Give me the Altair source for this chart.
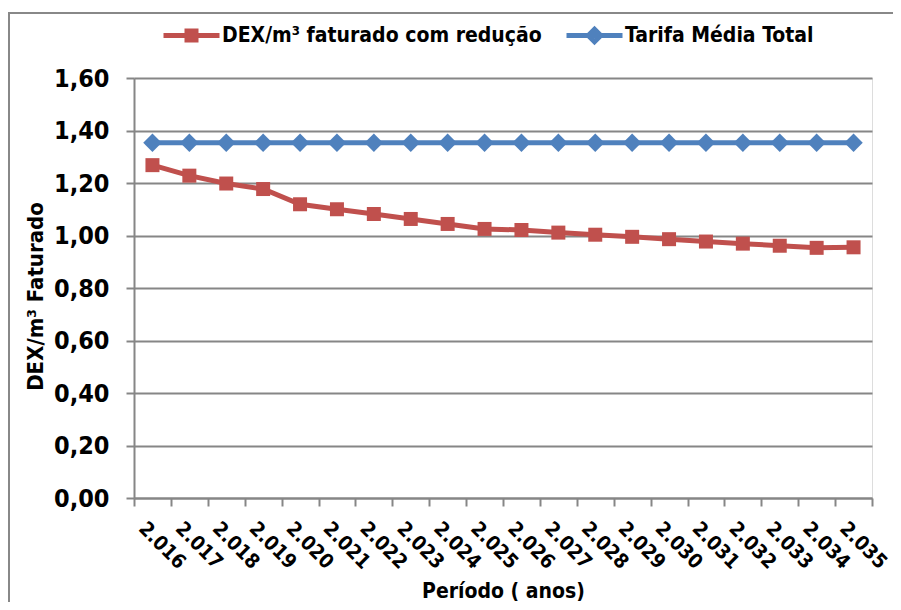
import altair as alt
import pandas as pd

years = ["2.016", "2.017", "2.018", "2.019", "2.020", "2.021", "2.022", "2.023", "2.024", "2.025",
         "2.026", "2.027", "2.028", "2.029", "2.030", "2.031", "2.032", "2.033", "2.034", "2.035"]
dex = [1.268, 1.228, 1.198, 1.177, 1.119, 1.100, 1.082, 1.063, 1.044, 1.025,
       1.021, 1.011, 1.003, 0.995, 0.986, 0.977, 0.969, 0.961, 0.953, 0.955]
tarifa = [1.353] * 20
series = ["DEX/m³ faturado com redução", "Tarifa Média Total"]
colors = ["#C0504D", "#4F81BD"]
y_ticks = [0.0, 0.2, 0.4, 0.6, 0.8, 1.0, 1.2, 1.4, 1.6]

df_red = pd.DataFrame({"ano": years, "valor": dex, "serie": series[0]})
df_blue = pd.DataFrame({"ano": years, "valor": tarifa, "serie": series[1]})

FONT = "'Liberation Sans Narrow', 'DejaVu Sans Condensed', 'Roboto Condensed', 'Arial Narrow', Roboto, 'Liberation Sans', sans-serif"

# legend symbols (stroked): a line segment with the series marker on it
red_path = "M-2.8,0H2.8M-0.45,-0.45H0.45V0.45H-0.45Z"
blue_path = "M-2.8,0H2.8M0,-0.62L0.62,0L0,0.62L-0.62,0Z"

x_enc = alt.X("ano:N", sort=years,
              scale=alt.Scale(paddingInner=0, paddingOuter=0),
              axis=alt.Axis(title="Período ( anos)", labelAngle=45, labelAlign="left",
                            labelBaseline="top", labelPadding=12, labelOffset=-4,
                            tickBand="extent", tickSize=8, tickColor="#868686", tickWidth=2,
                            domainColor="#868686", domainWidth=2,
                            labelFont=FONT, labelFontSize=20, labelFontWeight="bold",
                            labelColor="black",
                            titleFont=FONT, titleFontSize=21, titleFontWeight="bold",
                            titleColor="black", titleX=369, titleY=99,
                            titleBaseline="alphabetic", titleAnchor="middle"))
y_enc = alt.Y("valor:Q", scale=alt.Scale(domain=[0, 1.6], nice=False),
              axis=alt.Axis(title="DEX/m³ Faturado", values=y_ticks,
                            labelExpr="replace(format(datum.value, '.2f'), '.', ',')",
                            grid=True, gridColor="#868686", gridWidth=2,
                            tickSize=8, tickColor="#868686", tickWidth=2,
                            domainColor="#868686", domainWidth=2, labelPadding=17,
                            labelFont=FONT, labelFontSize=25, labelFontWeight="bold",
                            labelColor="black",
                            titleFont=FONT, titleFontSize=22, titleFontWeight="bold",
                            titleColor="black", titleX=-99, titleY=218,
                            titleBaseline="middle", titleAngle=-90))


def legend_for(path, lx):
    return alt.Legend(title=None, orient="none", direction="horizontal",
                      legendX=lx, legendY=-55, symbolType=path,
                      symbolSize=400, symbolStrokeWidth=5, labelOffset=18,
                      labelFont=FONT, labelFontSize=21, labelFontWeight="bold",
                      labelColor="black", labelLimit=500)


line_red = alt.Chart(df_red).mark_line(strokeWidth=5).encode(
    x=x_enc, y=y_enc,
    color=alt.Color("serie:N", scale=alt.Scale(domain=[series[0]], range=[colors[0]]),
                    legend=legend_for(red_path, 45)),
)
line_blue = alt.Chart(df_blue).mark_line(strokeWidth=5).encode(
    x=x_enc, y=y_enc,
    color=alt.Color("serie:N", scale=alt.Scale(domain=[series[1]], range=[colors[1]]),
                    legend=legend_for(blue_path, 448)),
)
pts_red = alt.Chart(df_red).mark_point(filled=True, opacity=1, strokeWidth=0,
                                       shape="square", size=196).encode(
    x=x_enc, y=y_enc, color=alt.value(colors[0]))
pts_blue = alt.Chart(df_blue).mark_point(filled=True, opacity=1, strokeWidth=0,
                                         shape="diamond", size=340).encode(
    x=x_enc, y=y_enc, color=alt.value(colors[1]))

# chart-area frame (left and top edges; the rest falls outside the picture)
frame = pd.DataFrame({"a": [0]})
border_left = alt.Chart(frame).mark_rect(color="#888888", strokeWidth=0).encode(
    x=alt.value(-126), x2=alt.value(-124), y=alt.value(-66), y2=alt.value(524))
border_top = alt.Chart(frame).mark_rect(color="#888888", strokeWidth=0).encode(
    x=alt.value(-126), x2=alt.value(759), y=alt.value(-66), y2=alt.value(-64))

chart = alt.layer(border_left, border_top, line_red, line_blue, pts_red, pts_blue).resolve_scale(
    color="independent"
).properties(
    width=738, height=420,
    padding={"left": 0, "top": 4, "right": 0, "bottom": 0},
).configure_view(fill="#EBF1DE", stroke=None).configure(background="white")

chart.save("out.html", embed_options={"renderer": "svg", "actions": False})
